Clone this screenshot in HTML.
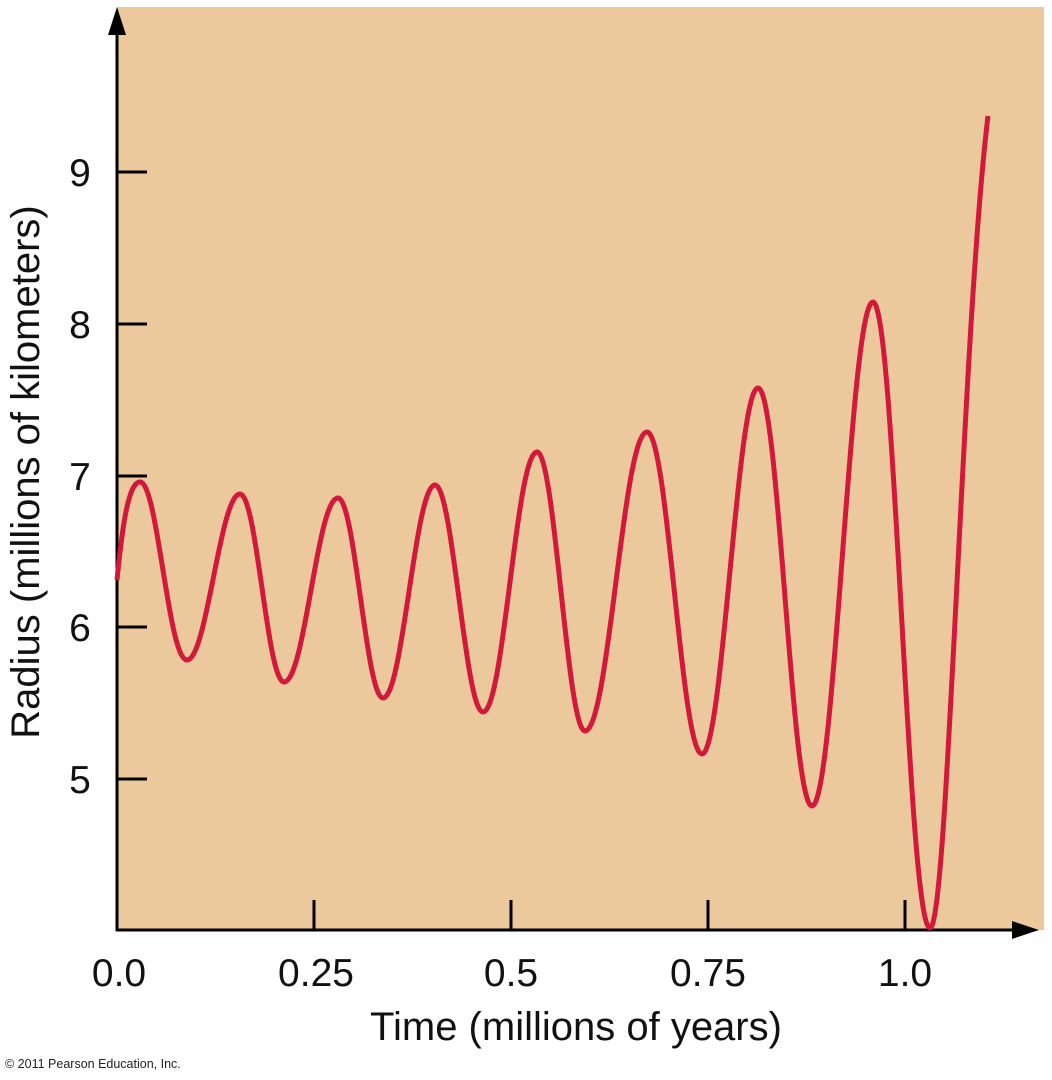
<!DOCTYPE html>
<html><head><style>body{margin:0;background:#fff}svg{display:block}</style></head><body>
<svg width="1052" height="1080" xmlns="http://www.w3.org/2000/svg" font-family="Liberation Sans, sans-serif">
<rect x="117" y="7" width="927" height="923" fill="#ecc99c"/>
<g stroke="#000" stroke-width="3">
<line x1="117" y1="30" x2="117" y2="931"/>
<line x1="116" y1="930" x2="1015" y2="930"/>
<line x1="117" y1="172" x2="147" y2="172"/>
<line x1="117" y1="324" x2="147" y2="324"/>
<line x1="117" y1="476" x2="147" y2="476"/>
<line x1="117" y1="627" x2="147" y2="627"/>
<line x1="117" y1="779" x2="147" y2="779"/>
<line x1="314" y1="930" x2="314" y2="900"/>
<line x1="511" y1="930" x2="511" y2="900"/>
<line x1="708" y1="930" x2="708" y2="900"/>
<line x1="905" y1="930" x2="905" y2="900"/>
</g>
<polygon points="117,7 108,35 126,35" fill="#000"/>
<polygon points="1039,930 1012,921 1012,939" fill="#000"/>
<path d="M117,580 C122,530 128,482 140,482 C158,482 168,660 187,660 C207,660 220,494 240,494 C257,494 267,682 284,682 C305,682 317,498 338,498 C355,498 366,698 383,698 C403,698 415,485 435,485 C453,485 465,712 483,712 C504,712 516,452 537,452 C555,452 567,731 585,731 C609,731 623,432 647,432 C668,432 681,754 702,754 C723,754 737,388 758,388 C779,388 791,806 812,806 C835,806 850,302 873,302 C895,302 908,928 930,928 C948,928 962,330 988,116" fill="none" stroke="#d2193c" stroke-width="5"/>
<g font-size="39" text-anchor="middle" fill="#111">
<text x="80" y="186">9</text>
<text x="80" y="338">8</text>
<text x="80" y="490">7</text>
<text x="80" y="641">6</text>
<text x="80" y="793">5</text>
<text x="119" y="986">0.0</text>
<text x="316" y="986">0.25</text>
<text x="511" y="986">0.5</text>
<text x="708" y="986">0.75</text>
<text x="905" y="986">1.0</text>
<text x="576" y="1040" font-size="40">Time (millions of years)</text>
<text transform="translate(39,472) rotate(-90)" font-size="40">Radius (millions of kilometers)</text>
</g>
<text x="5" y="1068" font-size="12.5" fill="#222">© 2011 Pearson Education, Inc.</text>
</svg>
</body></html>
